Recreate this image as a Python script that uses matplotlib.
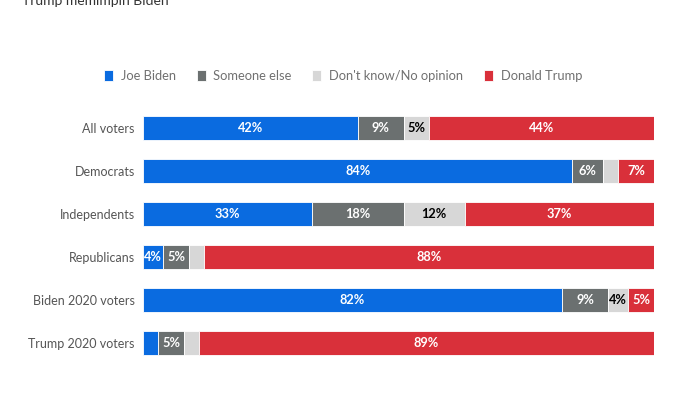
import matplotlib
matplotlib.use("Agg")
import matplotlib.pyplot as plt
import numpy as np

plt.rcParams['font.family'] = ['Lato', 'DejaVu Sans']

categories = ["All voters", "Democrats", "Independents", "Republicans",
              "Biden 2020 voters", "Trump 2020 voters"]
series_names = ["Joe Biden", "Someone else", "Don't know/No opinion", "Donald Trump"]
joe_biden = [42, 84, 33, 4, 82, 3]
someone_else = [9, 6, 18, 5, 9, 5]
dont_know = [5, 3, 12, 3, 4, 3]
donald_trump = [44, 7, 37, 88, 5, 89]
series_values = [joe_biden, someone_else, dont_know, donald_trump]

colors = ["#0a6be0", "#6b7070", "#d7d7d7", "#d9303a"]
text_colors = ["white", "white", "black", "white"]

fig = plt.figure(figsize=(7, 3.93), dpi=100)
ax = fig.add_axes([0.2043, 0.0725, 0.73, 0.6565])

y = np.arange(len(categories))
left = np.zeros(len(categories))
handles = []
for name, vals, c, tc in zip(series_names, series_values, colors, text_colors):
    vals = np.array(vals, dtype=float)
    b = ax.barh(y, vals, left=left, height=0.58, color=c, edgecolor="white",
                linewidth=0.6, label=name)
    handles.append(b)
    for yi, v, l in zip(y, vals, left):
        if v >= 4:
            ax.text(l + v / 2, yi, f"{int(v)}%", ha="center", va="center",
                    color=tc, fontsize=9.2, fontweight="bold")
    left += vals

ax.set_xlim(0, 100)
ax.set_ylim(5.5, -0.5)
ax.set_yticks(y)
ax.set_yticklabels(categories, fontsize=9, color="#555555")
ax.set_xticks([])
ax.tick_params(axis="y", length=0, pad=6)
for s in ax.spines.values():
    s.set_visible(False)

fig.legend(handles=handles, labels=series_names, loc="center", ncol=4,
           bbox_to_anchor=(0.490, 0.807), frameon=False, fontsize=9.3,
           handlelength=0.7, handleheight=0.9, handletextpad=0.6,
           columnspacing=1.6, labelcolor="#707070")

fig.text(0.031, 1.012, "Trump memimpin Biden", fontsize=10, color="#333333",
         ha="left", va="top")

fig.savefig("out.png", dpi=100)
